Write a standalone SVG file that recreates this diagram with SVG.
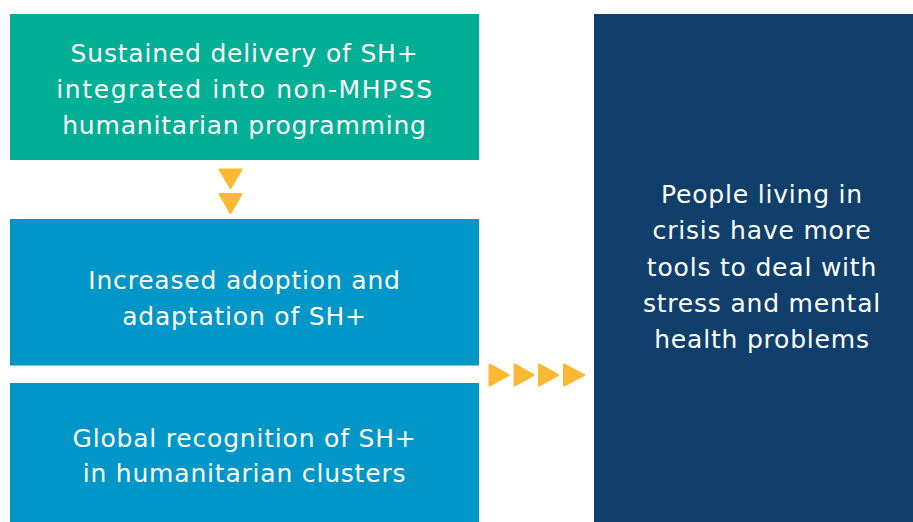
<svg xmlns="http://www.w3.org/2000/svg" width="913" height="522" viewBox="0 0 913 522">
<style>
  .lbl { font-family: "DejaVu Sans", "Liberation Sans", sans-serif; font-size: 25px; letter-spacing: 0.8px; fill: #ffffff; text-anchor: middle; }
  .wide { letter-spacing: 1.6px; }
  .arrow { fill: #FDB933; stroke: #FDB933; stroke-width: 2; stroke-linejoin: round; }
</style>
<rect width="913" height="522" fill="#ffffff"/>
<g id="node-sustained">
  <rect x="10" y="14" width="469" height="146" fill="#00AF94"/>
  <text class="lbl" x="244.5" y="62">Sustained delivery of SH+</text>
  <text class="lbl wide" x="245" y="98">integrated into non-MHPSS</text>
  <text class="lbl" x="244.5" y="134">humanitarian programming</text>
</g>
<g id="node-adoption">
  <rect x="10" y="219" width="469" height="146.5" fill="#0096C8"/>
  <text class="lbl" x="244.5" y="288.5">Increased adoption and</text>
  <text class="lbl" x="244.5" y="324.5">adaptation of SH+</text>
</g>
<g id="node-recognition">
  <rect x="10" y="383" width="469" height="139" fill="#0096C8"/>
  <text class="lbl" x="244.5" y="447">Global recognition of SH+</text>
  <text class="lbl" x="244.5" y="482">in humanitarian clusters</text>
</g>
<g id="node-outcome">
  <rect x="594" y="14" width="319" height="508" fill="#113F6B"/>
  <text class="lbl" x="762" y="202.5">People living in</text>
  <text class="lbl" x="762" y="239">crisis have more</text>
  <text class="lbl" x="762" y="275.5">tools to deal with</text>
  <text class="lbl" x="762" y="311.5">stress and mental</text>
  <text class="lbl" x="762" y="348">health problems</text>
</g>
<g id="connectors">
  <polygon class="arrow" points="219.5,169.5 241.5,169.5 230.5,188"/>
  <polygon class="arrow" points="219.5,194 241.5,194 230.5,213"/>
  <polygon class="arrow" points="489.5,364.5 508.5,375 489.5,385.5"/>
  <polygon class="arrow" points="514.5,364.5 533.5,375 514.5,385.5"/>
  <polygon class="arrow" points="539,364.5 558,375 539,385.5"/>
  <polygon class="arrow" points="564,364.5 584,375 564,385.5"/>
</g>
</svg>
